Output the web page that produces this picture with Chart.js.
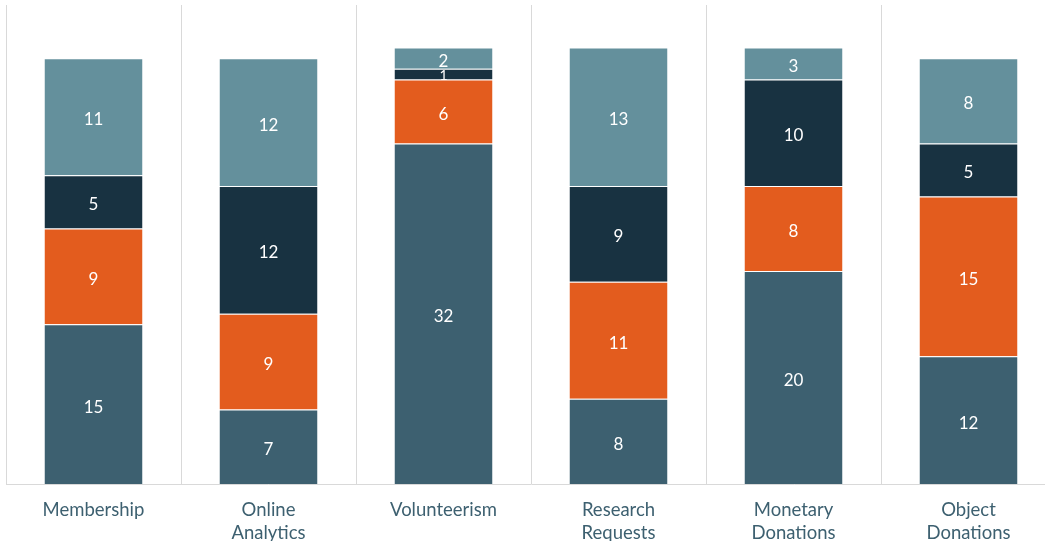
<!DOCTYPE html>
<html>
<head>
<meta charset="utf-8">
<script src="https://cdn.jsdelivr.net/npm/chart.js@4/dist/chart.umd.min.js"></script>
<style>
  html, body { margin: 0; padding: 0; background: #fff; overflow: hidden; }
  #wrap { width: 1056px; height: 541px; }
</style>
</head>
<body>
<div id="wrap"><canvas id="chart1"></canvas></div>
<script>
// categories and series values (bottom to top)
var categories = [["Membership"], ["Online", "Analytics"], ["Volunteerism"], ["Research", "Requests"], ["Monetary", "Donations"], ["Object", "Donations"]];
var series1 = [15, 7, 32, 8, 20, 12];
var series2 = [9, 9, 6, 11, 8, 15];
var series3 = [5, 12, 1, 9, 10, 5];
var series4 = [11, 12, 2, 13, 3, 8];
var seriesNames = ["Series 1", "Series 2", "Series 3", "Series 4"];
var colors = ["#3d6070", "#e35c1e", "#183241", "#64909c"];

// white value labels in the middle of each segment
var segmentLabels = {
    id: 'segmentLabels',
    afterDatasetsDraw: function(chart) {
        var ctx = chart.ctx;
        ctx.save();
        ctx.fillStyle = "#ffffff";
        ctx.textAlign = "center";
        ctx.textBaseline = "middle";
        chart.data.datasets.forEach(function(ds, di) {
            var meta = chart.getDatasetMeta(di);
            meta.data.forEach(function(bar, i) {
                var v = ds.data[i];
                var h = Math.abs(bar.base - bar.y);
                var small = h < 16;
                ctx.font = (small ? "14px" : "17px") + " Lato";
                ctx.fillText(v, bar.x, (bar.y + bar.base) / 2 + (small ? 1 : 3));
            });
        });
        ctx.restore();
    }
};

var allSeries = [series1, series2, series3, series4];
var datasets = [];
for (var i = 0; i < allSeries.length; i++) {
    datasets.push({
        label: seriesNames[i],
        data: allSeries[i],
        backgroundColor: colors[i],
        borderColor: "rgba(255,255,255,0.35)",
        borderWidth: {top: 1},
        borderSkipped: false,
        barPercentage: 0.56,
        categoryPercentage: 1.0
    });
}

var ctx1 = document.getElementById("chart1").getContext('2d');
var myChart = new Chart(ctx1, {
    type: 'bar',
    data: { labels: categories, datasets: datasets },
    plugins: [segmentLabels],
    options: {
        responsive: true,
        maintainAspectRatio: false,
        animation: false,
        layout: { padding: { left: 6, top: 5, right: 0, bottom: 0 } },
        plugins: {
            legend: { display: false },
            tooltip: { enabled: false }
        },
        scales: {
            x: {
                stacked: true,
                afterFit: function(scale) { scale.height = 57; },
                grid: { offset: true, color: "#d9d9d9", lineWidth: 1, drawTicks: false },
                border: { display: true, color: "#d9d9d9" },
                ticks: {
                    color: "#3d6070",
                    font: { family: "Lato", size: 18.5, lineHeight: 1.25 },
                    padding: 14,
                    maxRotation: 0
                }
            },
            y: {
                stacked: true,
                display: false,
                min: 0,
                max: 45
            }
        }
    }
});
</script>
</body>
</html>
